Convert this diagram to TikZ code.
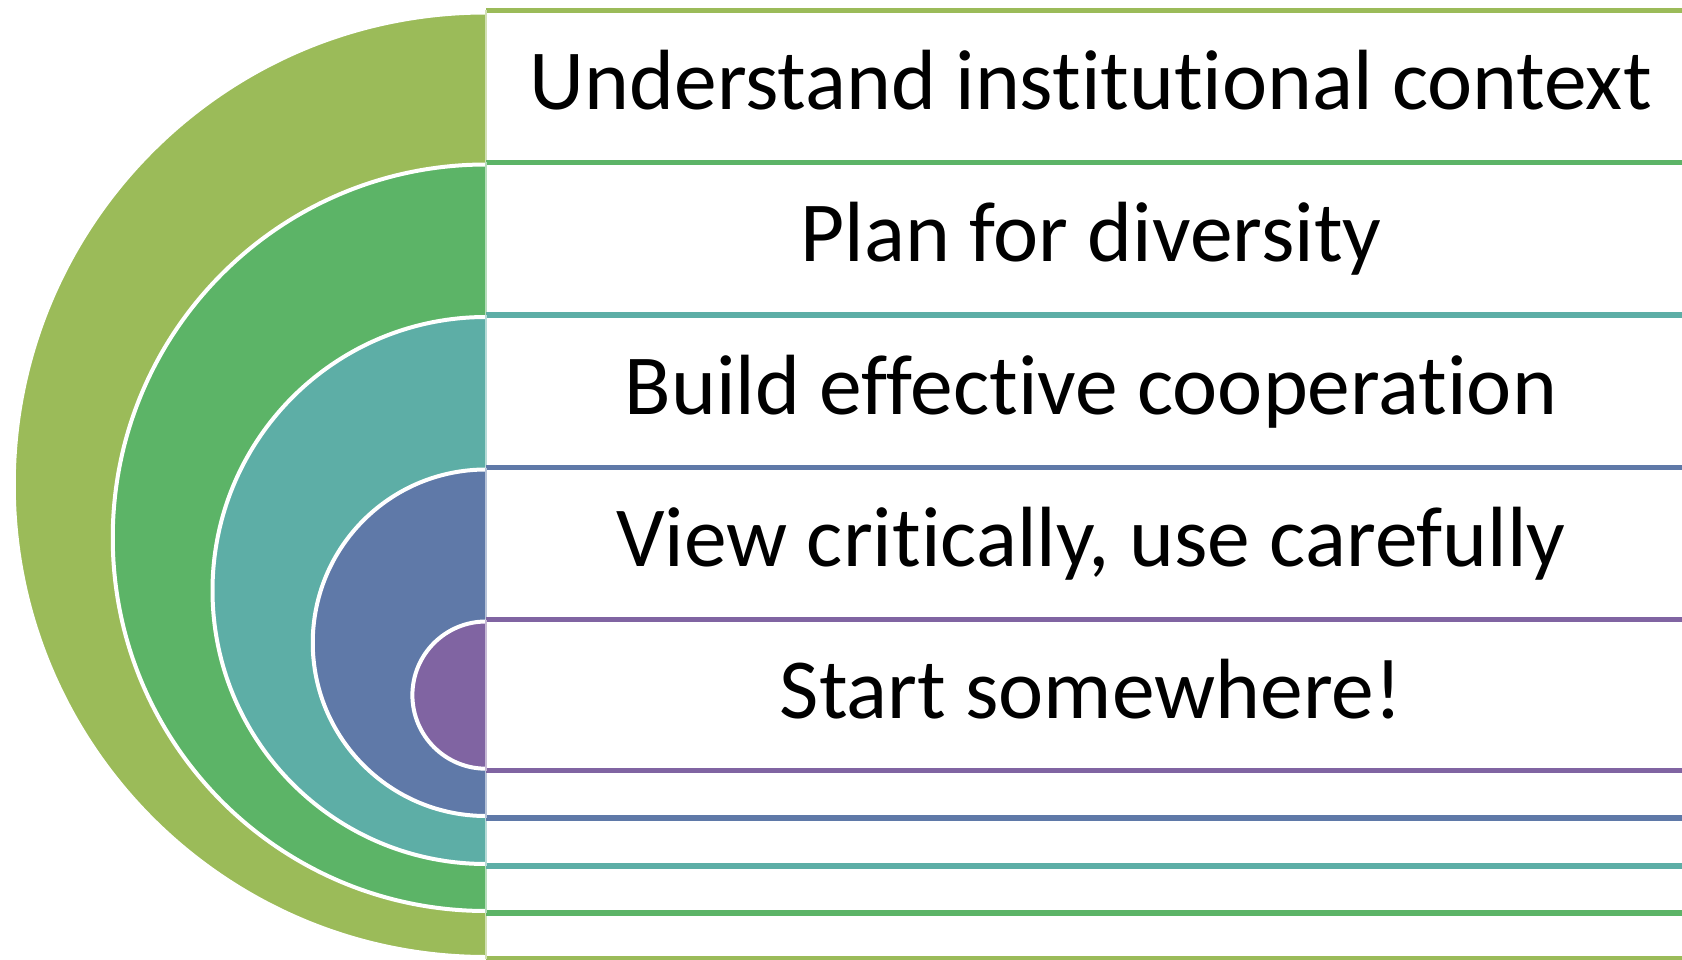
\documentclass[tikz,border=0pt]{standalone}
\usepackage{fontspec}
\setmainfont{Carlito}[Ligatures=NoCommon]
\definecolor{cA}{HTML}{9BBB59}
\definecolor{cB}{HTML}{5CB467}
\definecolor{cC}{HTML}{5DAEA6}
\definecolor{cD}{HTML}{5F79A8}
\definecolor{cE}{HTML}{8064A2}
\tikzset{
  lbl/.style={anchor=base, inner sep=0pt, font=\fontsize{85.5}{100}\selectfont, text=black},
  arcline/.style={white, line width=4pt},
  boxline/.style={line width=5.5pt},
  sideline/.style={line width=1.5pt}
}
\newcommand{\layer}[5]{% color, top, bottom, name, text
  \pgfmathsetmacro{\cy}{(#2+#3)/2}
  \pgfmathsetmacro{\rr}{(#3-#2)/2-2}
  \fill[#1] (486,-\cy+\rr) arc[start angle=90,end angle=270,radius=\rr] -- cycle;
  \draw[arcline] (486,-\cy+\rr) arc[start angle=90,end angle=270,radius=\rr];
  \fill[white] (486,-#2) rectangle (1700,-#3);
  \draw[boxline,#1] (486,-#2) -- (1700,-#2);
  \draw[boxline,#1] (486,-#3) -- (1700,-#3);
  \draw[sideline,#1!45] (486,-#2) -- (486,-#3);
  \node[lbl] (#4) at (1091,-#2-99) {#5};
}
\begin{document}
\begin{tikzpicture}[x=1pt,y=1pt]
\useasboundingbox (0,0) rectangle (1682,-960);
\clip (0,0) rectangle (1682,-960);
\layer{cA}{10.5}{959}{t1}{Understand institutional context}
\layer{cB}{162.5}{913}{t2}{Plan for diversity}
\layer{cC}{315}{866}{t3}{Build effective cooperation}
\layer{cD}{467.5}{818}{t4}{View critically, use carefully}
\layer{cE}{619.5}{770.7}{t5}{Start somewhere!}
\end{tikzpicture}
\end{document}
